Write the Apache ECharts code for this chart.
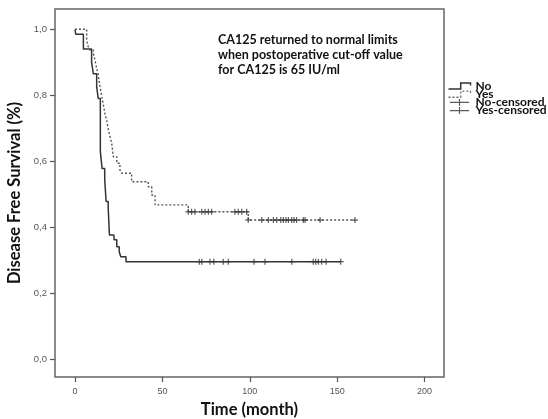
<!DOCTYPE html>
<html>
<head>
<meta charset="utf-8">
<title>Disease Free Survival</title>
<script src="https://cdn.jsdelivr.net/npm/echarts@6/dist/echarts.min.js"></script>
<style>
  html, body { margin: 0; padding: 0; background: #fff; }
  #chart { width: 548px; height: 419px; }
</style>
</head>
<body>
<div id="chart"></div>
<script>
// 刻度
var xTicks = [0, 50, 100, 150, 200];
var yTicks = [0, 0.2, 0.4, 0.6, 0.8, 1.0];

// "No" 组（实线）
var noTime = [0, 0.4, 4.8, 9.5, 10.5, 12.4, 13.3, 14.5, 15.5, 17.0, 17.8, 19.0, 19.7, 22.3, 23.9, 25.3, 26.2, 29.2, 152];
var noSurv = [1.0, 0.985, 0.94, 0.90, 0.865, 0.826, 0.79, 0.63, 0.578, 0.545, 0.478, 0.458, 0.377, 0.362, 0.341, 0.326, 0.311, 0.296, 0.296];

// "Yes" 组（虚线）
var yesTime = [0, 6.7, 7.6, 8.6, 10.5, 11.4, 12.4, 13.3, 14.3, 15.2, 16.1, 17.2, 18.1, 19.1, 20.0, 21.0, 21.9, 23.9, 25.7, 26.7, 32.4, 41.9, 43.9, 45.8, 64.8, 99.1, 160.2];
var yesSurv = [1.0, 0.965, 0.947, 0.937, 0.927, 0.907, 0.882, 0.862, 0.826, 0.80, 0.775, 0.742, 0.725, 0.695, 0.675, 0.655, 0.614, 0.594, 0.574, 0.564, 0.538, 0.523, 0.498, 0.468, 0.447, 0.422, 0.422];

// 删失点
var noCensTime = [71.1, 72.5, 77.2, 79.4, 84.8, 87.7, 102.4, 108.7, 124.0, 136.3, 137.7, 139.2, 141.1, 143.6, 152.0];
var noCensSurv = [0.296, 0.296, 0.296, 0.296, 0.296, 0.296, 0.296, 0.296, 0.296, 0.296, 0.296, 0.296, 0.296, 0.296, 0.296];
var yesCensTime = [64.8, 66.7, 68.6, 72.5, 74.4, 76.3, 78.2, 91.5, 93.4, 95.4, 98.2,
                   99.1, 106.8, 110.6, 113.5, 115.4, 117.7, 119.2, 120.7, 122.1, 124.0, 125.3, 126.8, 130.6, 131.6, 140.2, 160.2];
var yesCensSurv = [0.447, 0.447, 0.447, 0.447, 0.447, 0.447, 0.447, 0.447, 0.447, 0.447, 0.447,
                   0.422, 0.422, 0.422, 0.422, 0.422, 0.422, 0.422, 0.422, 0.422, 0.422, 0.422, 0.422, 0.422, 0.422, 0.422, 0.422];

function pairs(a, b) {
    var out = [];
    for (var i = 0; i < a.length; i++) out.push([a[i], b[i]]);
    return out;
}

var plus = 'path://M0,5L10,5M5,0L5,10';
var myChart = echarts.init(document.getElementById('chart'));

var option = {
    animation: false,
    title: {
        text: 'CA125 returned to normal limits\nwhen postoperative cut-off value\nfor CA125 is 65 IU/ml',
        left: 218,
        top: 33,
        padding: 0,
        textStyle: {
            fontFamily: 'Lato',
            fontSize: 12.5,
            fontWeight: 'bold',
            lineHeight: 14.7,
            color: '#111'
        }
    },
    legend: {
        orient: 'vertical',
        left: 446,
        top: 80,
        padding: 0,
        itemWidth: 22,
        itemHeight: 7,
        itemGap: -3.8,
        selectedMode: false,
        textStyle: {
            fontFamily: 'Lato',
            fontSize: 12,
            fontWeight: 'bold',
            color: '#111'
        },
        data: [
            { name: 'No', icon: 'path://M0,6L10,6L10,1L18,1L18,3',
              itemStyle: { color: 'none', borderColor: '#333', borderWidth: 1.5 } },
            { name: 'Yes', icon: 'path://M0,6L10,6L10,1L18,1L18,3',
              itemStyle: { color: 'none', borderColor: '#666', borderWidth: 1.3, borderType: [2, 2] } },
            { name: 'No-censored', icon: 'path://M0,4L22,4M11,0L11,8',
              itemStyle: { color: 'none', borderColor: '#333', borderWidth: 1.2 } },
            { name: 'Yes-censored', icon: 'path://M0,4L22,4M11,0L11,8',
              itemStyle: { color: 'none', borderColor: '#333', borderWidth: 1.2 } }
        ]
    },
    grid: {
        left: 55,
        right: 104,
        top: 9,
        bottom: 42,
        outerBoundsMode: 'none',
        containLabel: false,
        show: true,
        borderColor: '#666',
        borderWidth: 1.5
    },
    xAxis: {
        type: 'value',
        min: -11.44,
        max: 211.1,
        name: 'Time (month)',
        nameLocation: 'middle',
        nameGap: 22,
        nameTextStyle: { fontFamily: 'Lato', fontSize: 16.5, fontWeight: 'bold', color: '#111' },
        axisLine: { show: false, onZero: false },
        splitLine: { show: false },
        axisTick: { customValues: xTicks, length: 5, lineStyle: { color: '#555', width: 1.2 } },
        axisLabel: { customValues: xTicks, fontFamily: 'Liberation Sans', fontSize: 9, color: '#555', margin: 10 }
    },
    yAxis: {
        type: 'value',
        min: -0.0536,
        max: 1.0615,
        name: 'Disease Free Survival (%)',
        nameLocation: 'middle',
        nameGap: 31,
        nameTextStyle: { fontFamily: 'Lato', fontSize: 16.5, fontWeight: 'bold', color: '#111' },
        axisLine: { show: false, onZero: false },
        splitLine: { show: false },
        axisTick: { customValues: yTicks, length: 5, lineStyle: { color: '#555', width: 1.2 } },
        axisLabel: {
            customValues: yTicks,
            fontFamily: 'Liberation Sans',
            fontSize: 9.5,
            color: '#555',
            margin: 8,
            formatter: function (v) { return v.toFixed(1).replace('.', ','); }
        }
    },
    series: [
        {
            name: 'No',
            type: 'line',
            step: 'end',
            symbol: 'none',
            data: pairs(noTime, noSurv),
            lineStyle: { color: '#333', width: 1.5 },
            itemStyle: { color: '#333' }
        },
        {
            name: 'Yes',
            type: 'line',
            step: 'end',
            symbol: 'none',
            data: pairs(yesTime, yesSurv),
            lineStyle: { color: '#555', width: 1.4, type: [2, 2] },
            itemStyle: { color: '#555' }
        },
        {
            name: 'No-censored',
            type: 'scatter',
            symbol: plus,
            symbolSize: 6,
            data: pairs(noCensTime, noCensSurv),
            itemStyle: { color: 'none', borderColor: '#333', borderWidth: 1.2 },
            z: 3
        },
        {
            name: 'Yes-censored',
            type: 'scatter',
            symbol: plus,
            symbolSize: 6,
            data: pairs(yesCensTime, yesCensSurv),
            itemStyle: { color: 'none', borderColor: '#333', borderWidth: 1.2 },
            z: 3
        }
    ]
};

myChart.setOption(option);
</script>
</body>
</html>
